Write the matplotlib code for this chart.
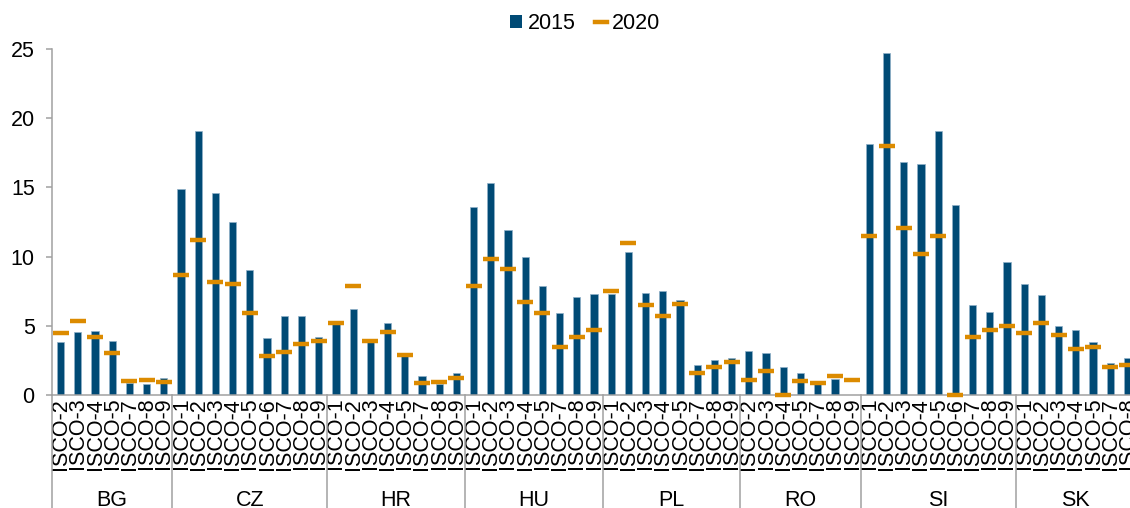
import numpy as np
import matplotlib
matplotlib.use('Agg')
import matplotlib.pyplot as plt
import matplotlib.transforms as mtransforms
from matplotlib.patches import Patch
from matplotlib.lines import Line2D

plt.rcParams['font.family'] = ['Liberation Sans', 'DejaVu Sans']

BLUE = '#004a75'
ORANGE = '#dc8b00'
GRAY = '#a0a0a0'

# --- data ---
groups = ['BG', 'CZ', 'HR', 'HU', 'PL', 'RO', 'SI', 'SK']
group_isco = [
    [2, 3, 4, 5, 7, 8, 9],
    [1, 2, 3, 4, 5, 6, 7, 8, 9],
    [1, 2, 3, 4, 5, 7, 8, 9],
    [1, 2, 3, 4, 5, 7, 8, 9],
    [1, 2, 3, 4, 5, 7, 8, 9],
    [2, 3, 4, 5, 7, 8, 9],
    [1, 2, 3, 4, 5, 6, 7, 8, 9],
    [1, 2, 3, 4, 5, 7, 8],
]
v2015 = [
    3.8, 4.55, 4.6, 3.9, 0.9, 0.8, 1.2,               # BG
    14.9, 19.1, 14.6, 12.5, 9.0, 4.1, 5.7, 5.7, 4.2,   # CZ
    5.1, 6.2, 3.8, 5.2, 3.0, 1.4, 0.8, 1.6,            # HR
    13.6, 15.3, 11.9, 10.0, 7.9, 5.9, 7.1, 7.3,        # HU
    7.3, 10.3, 7.4, 7.5, 6.9, 2.2, 2.5, 2.7,           # PL
    3.2, 3.0, 2.0, 1.6, 0.85, 1.15, np.nan,            # RO
    18.1, 24.7, 16.8, 16.7, 19.1, 13.7, 6.5, 6.0, 9.6, # SI
    8.0, 7.2, 5.0, 4.7, 3.8, 2.3, 2.7,                 # SK
]
v2020 = [
    4.45, 5.35, 4.2, 3.0, 1.0, 1.1, 0.95,              # BG
    8.7, 11.2, 8.2, 8.0, 5.9, 2.8, 3.1, 3.7, 3.9,      # CZ
    5.2, 7.85, 3.9, 4.55, 2.9, 0.85, 0.95, 1.25,       # HR
    7.9, 9.8, 9.1, 6.7, 5.9, 3.5, 4.2, 4.7,            # HU
    7.5, 11.0, 6.5, 5.7, 6.6, 1.6, 2.0, 2.35,          # PL
    1.1, 1.7, 0.0, 1.0, 0.9, 1.4, 1.1,                 # RO
    11.5, 18.0, 12.1, 10.2, 11.5, 0.0, 4.2, 4.7, 4.95, # SI
    4.5, 5.2, 4.3, 3.3, 3.45, 2.0, 2.2,                # SK
]

labels = [f'ISCO-{k}' for g in group_isco for k in g]
x = np.arange(len(labels))

fig = plt.figure(figsize=(11.3, 5.08), dpi=100)
ax = fig.add_axes([52 / 1130, 113 / 508, 1 - 52 / 1130, 346 / 508])

ax.bar(x, v2015, width=0.42, color=BLUE, edgecolor='#8fb0c8', linewidth=0.5, zorder=2)
ax.plot(x, v2020, ls='none', marker='_', ms=11, mew=3.2, color=ORANGE,
        zorder=3, clip_on=False)

ax.set_ylim(0, 25)
ax.set_xlim(-0.5, 62.15)
ax.set_yticks([0, 5, 10, 15, 20, 25])
ax.set_xticks(x, labels, rotation=90)
ax.tick_params(axis='x', length=0, pad=2, labelsize=15.5)
ax.tick_params(axis='y', length=4.5, width=1.1, color=GRAY, pad=8, labelsize=15.5)
for s in ['top', 'right']:
    ax.spines[s].set_visible(False)
for s in ['left', 'bottom']:
    ax.spines[s].set_color(GRAY)
    ax.spines[s].set_linewidth(1.1)

# group separators and country labels under the tick labels
trans = mtransforms.blended_transform_factory(ax.transData, ax.transAxes)
ftrans = mtransforms.blended_transform_factory(ax.transData, fig.transFigure)
start = 0
for name, g in zip(groups, group_isco):
    ax.plot([start - 0.5, start - 0.5], [0, -0.4], transform=trans, color=GRAY,
            lw=1.1, clip_on=False)
    end = start + len(g)
    fig.text((start + end - 1) / 2, 2 / 508, name, transform=ftrans, ha='center',
             va='baseline', fontsize=15.5)
    start = end
ax.plot([start - 0.5, start - 0.5], [0, -0.4], transform=trans, color=GRAY,
        lw=1.1, clip_on=False)

handles = [Patch(facecolor=BLUE, edgecolor='none'),
           Line2D([], [], color=ORANGE, lw=3.2)]
fig.legend(handles, ['2015', '2020'], loc='upper center', bbox_to_anchor=(0.518, 1.012),
           ncol=2, frameon=False, fontsize=15.5, handlelength=0.55, handleheight=0.55,
           handletextpad=0.25, columnspacing=0.9)

fig.savefig('out.png', dpi=100)
